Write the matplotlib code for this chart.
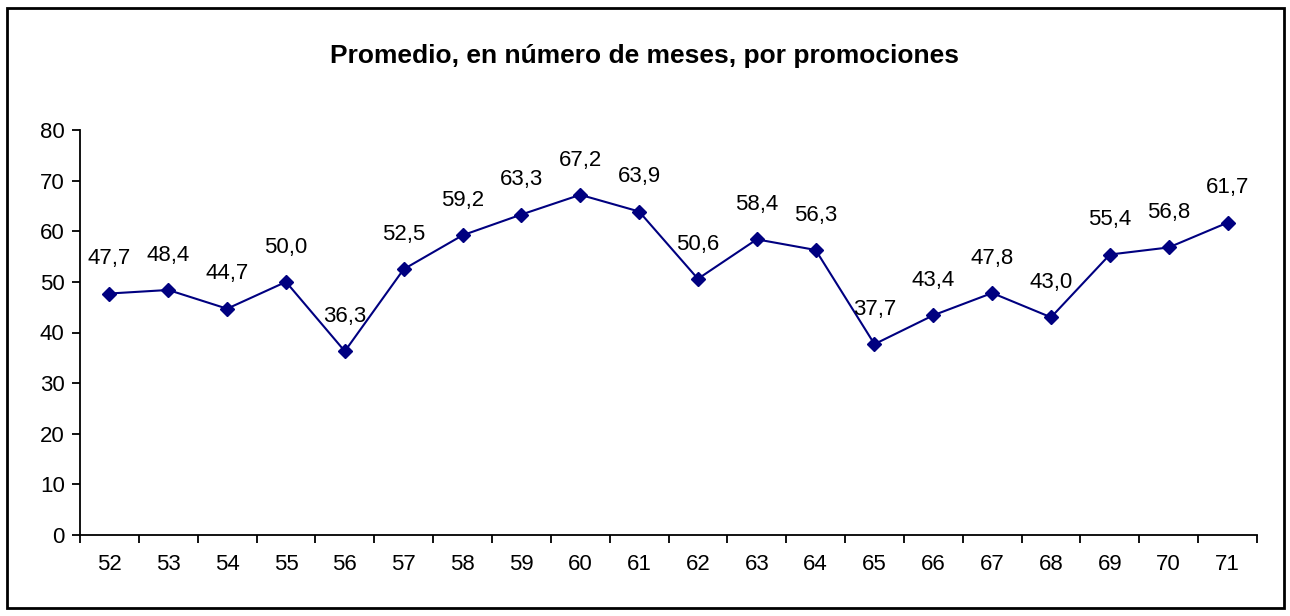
import numpy as np
import matplotlib.pyplot as plt
from matplotlib.patches import Rectangle
from matplotlib.ticker import FixedLocator, NullFormatter

plt.rcParams['font.family'] = ['Liberation Sans', 'DejaVu Sans']

# Data
promociones = ["52", "53", "54", "55", "56", "57", "58", "59", "60", "61",
               "62", "63", "64", "65", "66", "67", "68", "69", "70", "71"]
meses = [47.7, 48.4, 44.7, 50.0, 36.3, 52.5, 59.2, 63.3, 67.2, 63.9,
         50.6, 58.4, 56.3, 37.7, 43.4, 47.8, 43.0, 55.4, 56.8, 61.7]
yticks = [0, 10, 20, 30, 40, 50, 60, 70, 80]

W, H = 1290, 616
fig = plt.figure(figsize=(W / 100, H / 100), dpi=100)

# outer chart frame
fig.patches.append(Rectangle((7 / W, 8 / H), (1284 - 7) / W, (608 - 8) / H,
                             transform=fig.transFigure, fill=False,
                             edgecolor="black", linewidth=2))

ax = fig.add_axes([80 / W, 1 - 535 / H, (1257 - 80) / W, (535 - 130) / H])

x = np.arange(len(promociones))
ax.plot(x, meses, color="#000080", linewidth=1.5, marker="D", markersize=7.5,
        markerfacecolor="#000080", markeredgecolor="#000080", clip_on=False)

for xi, v in zip(x, meses):
    ax.annotate(f"{v:.1f}".replace(".", ","), (xi, v), xytext=(0, 25),
                textcoords="offset points", ha="center", va="center",
                fontsize=16)

ax.set_xlim(-0.5, len(promociones) - 0.5)
ax.set_ylim(0, 80)
ax.set_yticks(yticks)
ax.set_xticks(x)
ax.set_xticklabels(promociones)
ax.xaxis.set_minor_locator(FixedLocator(np.arange(-0.5, len(promociones), 1.0)))
ax.xaxis.set_minor_formatter(NullFormatter())

ax.tick_params(axis="x", which="major", length=0, pad=14, labelsize=16)
ax.tick_params(axis="x", which="minor", length=6, width=1.3, direction="out")
ax.tick_params(axis="y", length=6, width=1.3, direction="out", labelsize=16, pad=5)

for side in ["top", "right"]:
    ax.spines[side].set_visible(False)
for side in ["left", "bottom"]:
    ax.spines[side].set_linewidth(1.3)

fig.text(0.5, 1 - 56 / H, "Promedio, en número de meses, por promociones",
         ha="center", va="center", fontsize=19, fontweight="bold")

fig.savefig("out.png", dpi=100)
